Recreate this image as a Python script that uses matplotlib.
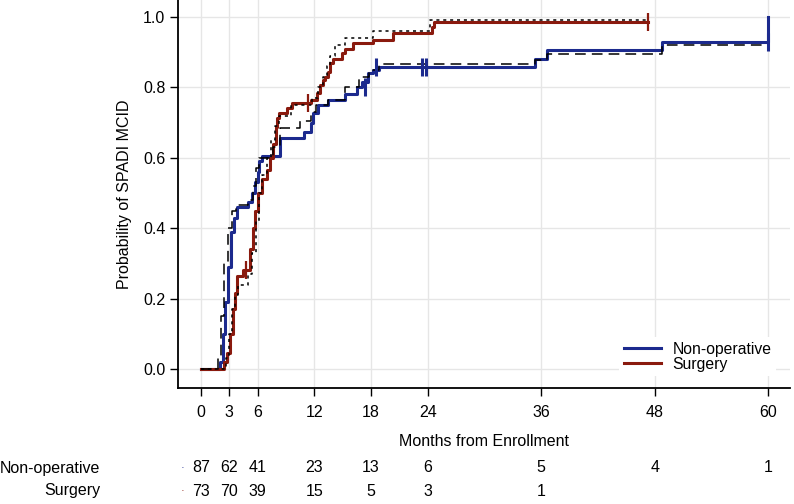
import numpy as np
import matplotlib
matplotlib.use("Agg")
import matplotlib.pyplot as plt
from matplotlib.transforms import blended_transform_factory

plt.rcParams['font.family'] = ['Liberation Sans', 'DejaVu Sans']

# Kaplan-Meier style step curves (time in months, cumulative probability)
nonop_t = [0, 2.0, 2.3, 2.55, 2.85, 3.15, 3.5, 3.8, 5.0, 5.4, 5.7, 6.0, 6.1, 6.45, 8.4, 10.9, 11.7,
           11.9, 12.4, 13.4, 15.2, 16.5, 17.0, 17.7, 18.2, 18.8, 35.3, 36.6, 48.8, 60.0]
nonop_p = [0, 0.02, 0.10, 0.19, 0.29, 0.39, 0.43, 0.46, 0.475, 0.50, 0.53, 0.56, 0.59, 0.605, 0.656, 0.673, 0.70,
           0.727, 0.75, 0.764, 0.78, 0.80, 0.815, 0.84, 0.85, 0.857, 0.88, 0.906, 0.93, 1.0]
nonop_cens_t = [17.4, 18.5, 23.4, 23.8, 60.0]
nonop_cens_p = [0.80, 0.857, 0.857, 0.857, 0.93]

surg_t = [0, 2.5, 2.8, 3.1, 3.4, 3.6, 3.8, 4.5, 5.2, 5.5, 5.7, 6.0, 6.5, 7.0, 7.3, 7.6, 7.9, 8.1, 8.3, 9.1,
          9.6, 11.7, 12.3, 12.6, 12.9, 13.1, 13.4, 13.7, 14.0, 14.9, 15.2, 16.1, 18.2, 20.3, 24.4, 24.7, 47.3]
surg_p = [0, 0.02, 0.045, 0.10, 0.17, 0.215, 0.265, 0.28, 0.34, 0.40, 0.45, 0.50, 0.54, 0.565, 0.60, 0.64, 0.687,
          0.713, 0.727, 0.74, 0.756, 0.764, 0.784, 0.807, 0.82, 0.83, 0.844, 0.87, 0.88, 0.897, 0.91, 0.926,
          0.935, 0.955, 0.97, 0.986, 0.986]
surg_cens_t = [4.8, 11.3, 47.3]
surg_cens_p = [0.28, 0.756, 0.986]

# model-based curves (black dashed / dotted)
nonop_fit_t = [0, 1.8, 2.1, 2.5, 2.9, 3.3, 3.7, 5.0, 5.5, 5.8, 6.2, 7.6, 8.4, 10.5, 11.6, 12.2, 13.4, 15.2,
               16.7, 17.8, 18.8, 35.3, 36.6, 48.8, 60.0]
nonop_fit_p = [0, 0.03, 0.15, 0.30, 0.40, 0.45, 0.465, 0.48, 0.52, 0.57, 0.60, 0.63, 0.685, 0.705, 0.73,
               0.75, 0.765, 0.80, 0.83, 0.85, 0.866, 0.878, 0.895, 0.92, 0.92]
surg_fit_t = [0, 2.7, 3.0, 3.3, 3.6, 3.9, 5.0, 5.4, 5.8, 6.1, 6.5, 7.0, 7.4, 7.8, 8.3, 9.5, 11.8, 12.4,
              12.9, 13.3, 13.7, 14.2, 15.2, 18.2, 24.2, 47.3]
surg_fit_p = [0, 0.03, 0.10, 0.17, 0.21, 0.24, 0.27, 0.33, 0.42, 0.50, 0.55, 0.60, 0.65, 0.69, 0.72, 0.75,
              0.77, 0.80, 0.83, 0.86, 0.89, 0.92, 0.94, 0.96, 0.99, 0.99]

# number at risk table
risk_times = [0, 3, 6, 12, 18, 24, 36, 48, 60]
risk_nonop = [87, 62, 41, 23, 13, 6, 5, 4, 1]
risk_surg = [73, 70, 39, 15, 5, 3, 1, None, None]

blue = '#1c2a8e'
red = '#8a1a0e'

fig = plt.figure(figsize=(7.94, 5.04), dpi=100)
ax = fig.add_axes([0.224, 0.230, 0.771, 0.770])

ax.step(nonop_fit_t, nonop_fit_p, where='post', color='black', lw=1.1, ls=(0, (7, 4)), zorder=3)
ax.step(surg_fit_t, surg_fit_p, where='post', color='black', lw=1.1, ls=(0, (2, 2.5)), zorder=3)
ax.step(nonop_t, nonop_p, where='post', color=blue, lw=2.2, label='Non-operative', zorder=2)
ax.step(surg_t, surg_p, where='post', color=red, lw=2.2, label='Surgery', zorder=2)
ax.plot(nonop_cens_t, nonop_cens_p, ls='none', marker='|', ms=13, mew=2.2, color=blue, zorder=4)
ax.plot(surg_cens_t, surg_cens_p, ls='none', marker='|', ms=13, mew=1.6, color=red, zorder=4)

ax.set_xlim(-2.43, 62.3)
ax.set_ylim(-0.054, 1.048)
ax.set_xticks(risk_times)
ax.set_yticks([0.0, 0.2, 0.4, 0.6, 0.8, 1.0])
ax.set_yticklabels(['0.0', '0.2', '0.4', '0.6', '0.8', '1.0'])
ax.grid(True, color='#e6e6e6', lw=1)
ax.set_axisbelow(True)
for s in ['top', 'right']:
    ax.spines[s].set_visible(False)
for s in ['left', 'bottom']:
    ax.spines[s].set_linewidth(1.3)
ax.tick_params(axis='both', length=6, width=1, labelsize=11.5, colors='black')
ax.tick_params(axis='x', pad=6)
ax.tick_params(axis='y', pad=3)
ax.set_ylabel('Probability of SPADI MCID', fontsize=11.5, labelpad=8)
ax.set_xlabel('Months from Enrollment', fontsize=11.5, labelpad=10)

leg = ax.legend(loc='lower right', bbox_to_anchor=(0.99, 0.01), frameon=True, fontsize=11.3,
                labelspacing=0.0, handlelength=2.4, handletextpad=0.7, borderpad=0.3)
leg.get_frame().set_edgecolor('none')
leg.get_frame().set_facecolor('white')
leg.get_frame().set_alpha(1)

# risk table below the axes
tr = blended_transform_factory(ax.transData, fig.transFigure)
row_y = [1 - 468 / 504, 1 - 491 / 504]
fig.text(0.126, row_y[0], 'Non-operative', ha='right', va='center', fontsize=11.5)
fig.text(0.126, row_y[1], 'Surgery', ha='right', va='center', fontsize=11.5)
fig.text(0.230, row_y[0], '·', color=blue, ha='center', va='center', fontsize=8)
fig.text(0.230, row_y[1], '·', color=red, ha='center', va='center', fontsize=8)
for t, n1, n2 in zip(risk_times, risk_nonop, risk_surg):
    ax.text(t, row_y[0], str(n1), transform=tr, ha='center', va='center', fontsize=11.5)
    if n2 is not None:
        ax.text(t, row_y[1], str(n2), transform=tr, ha='center', va='center', fontsize=11.5)

fig.savefig('out.png', dpi=100)
